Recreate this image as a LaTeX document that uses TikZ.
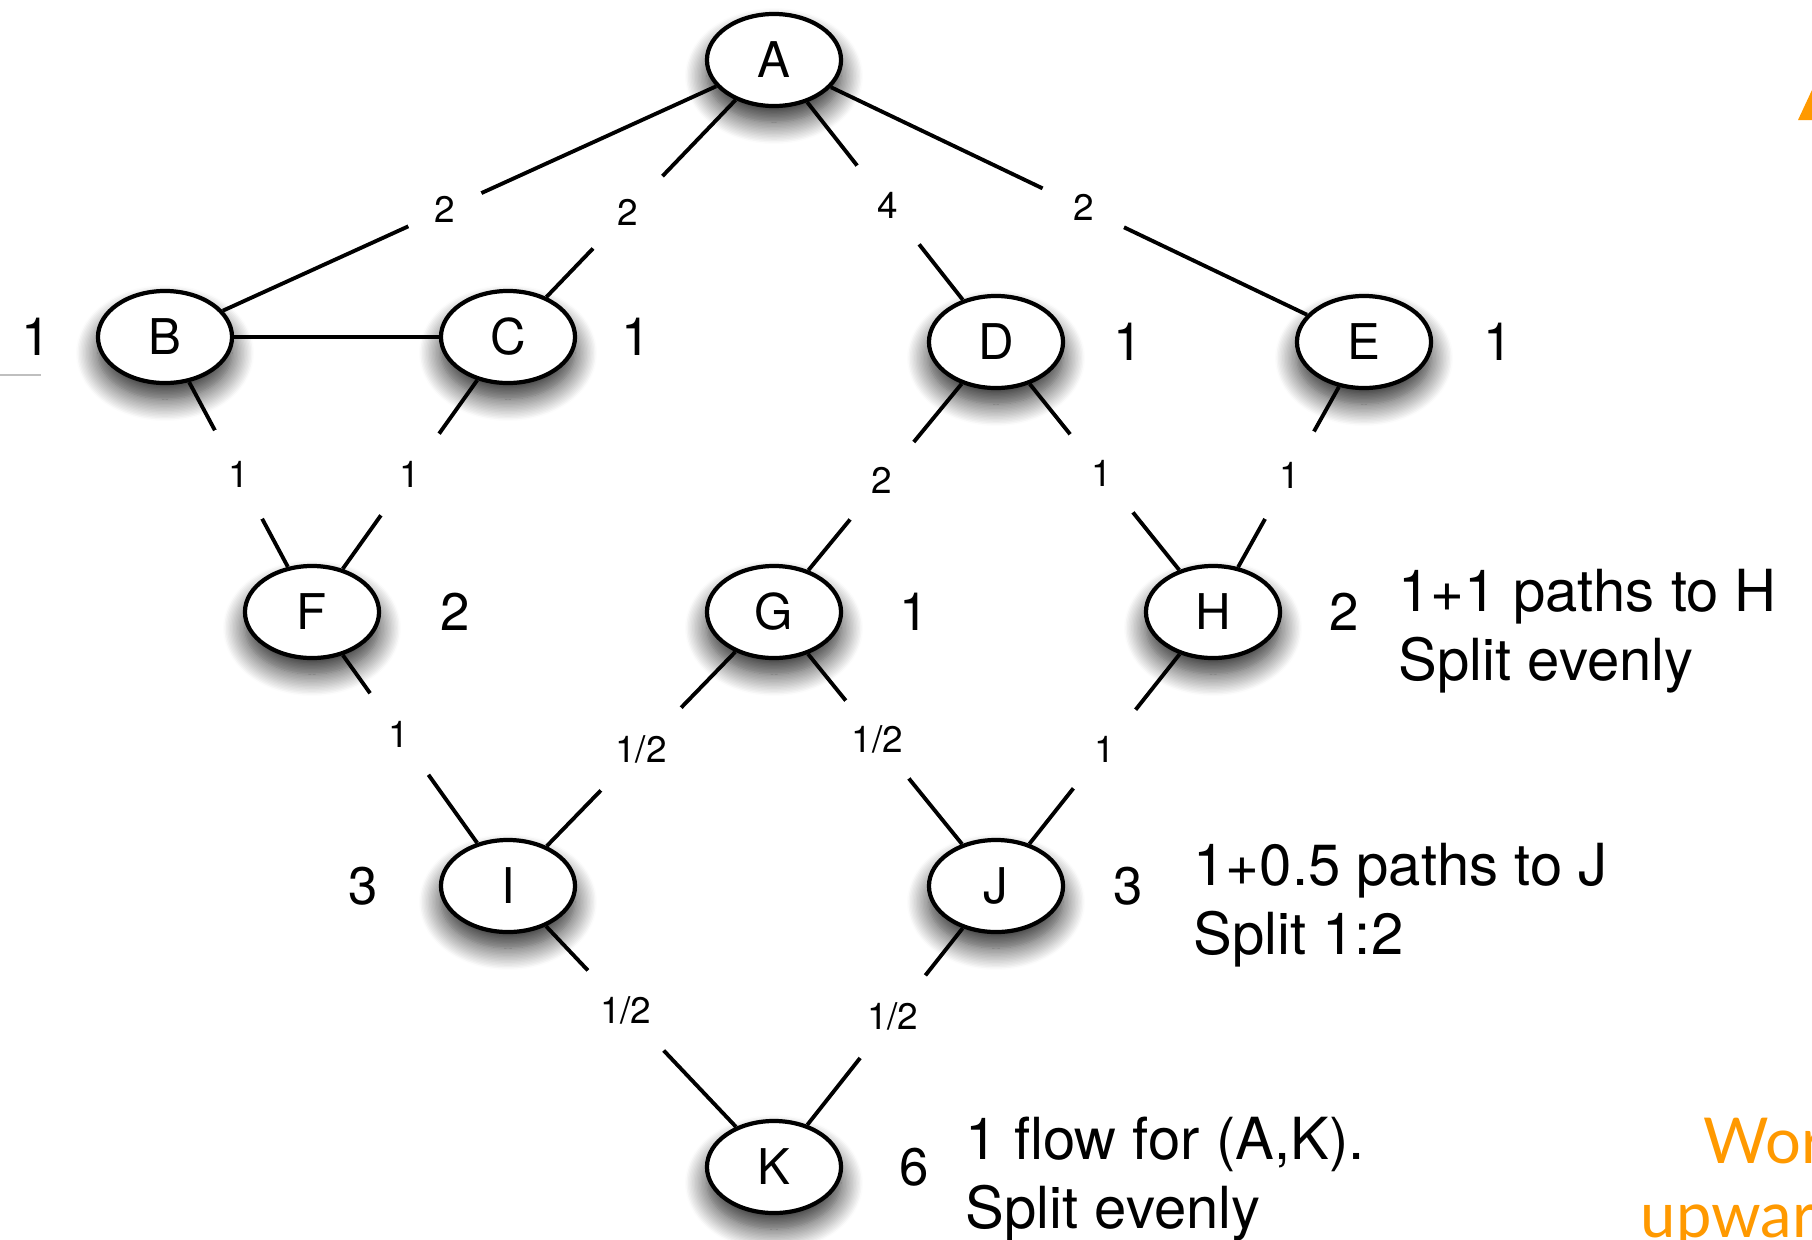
\documentclass[tikz,border=0pt]{standalone}
\usepackage{fontspec}
\setmainfont{TeX Gyre Heros}
\newfontfamily\slidefont{Lato}
\usetikzlibrary{positioning, shapes.geometric, shadows.blur}
\definecolor{slideorange}{RGB}{255,153,0}

\begin{document}
\begin{tikzpicture}[
    x=0.01cm, y=-0.01cm,
    vertex/.style={draw, ellipse, line width=1.2pt, fill=white, minimum width=1.34cm, minimum height=0.92cm, inner sep=0pt,
        font=\fontsize{14}{16}\selectfont,
        blur shadow={shadow xshift=0pt, shadow yshift=-0.16cm, shadow blur radius=0.22cm, shadow blur steps=16, shadow opacity=85}},
    link/.style={line width=1.1pt},
    weight/.style={fill=white, circle, inner sep=0pt, minimum size=1cm, font=\fontsize{10.5}{12}\selectfont},
    count/.style={font=\fontsize{15}{18}\selectfont},
    note/.style={anchor=west, align=left, inner sep=0pt, font=\fontsize{16.5}{19.6}\selectfont},
    remnant/.style={anchor=base west, inner sep=0pt, text=slideorange, font=\slidefont\fontsize{18}{20}\selectfont},
]
\clip (0,0) rectangle (1812,1239);

% Nodes of the DAG
\node[vertex] (A) at (774,60) {A};
\node[vertex] (B) at (165,337) {B};
\node[vertex] (C) at (508,337) {C};
\node[vertex] (D) at (996,342) {D};
\node[vertex] (E) at (1364,342) {E};
\node[vertex] (F) at (312,612) {F};
\node[vertex] (G) at (774,612) {G};
\node[vertex] (H) at (1213,612) {H};
\node[vertex] (I) at (508,886) {I};
\node[vertex] (J) at (996,886) {J};
\node[vertex] (K) at (774,1167) {K};

% Edges with credit weights
\draw[link] (A) -- node[weight, minimum size=0.8cm, pos=0.55] {2} (B);
\draw[link] (A) -- node[weight, pos=0.57] {2} (C);
\draw[link] (A) -- node[weight, pos=0.52] {4} (D);
\draw[link] (A) -- node[weight, minimum size=0.9cm, pos=0.53] {2} (E);
\draw[link] (B) -- (C);
\draw[link] (B) -- node[weight, pos=0.5] {1} (F);
\draw[link] (C) -- node[weight, pos=0.5] {1} (F);
\draw[link] (D) -- node[weight, pos=0.52] {2} (G);
\draw[link] (D) -- node[weight, pos=0.48] {1} (H);
\draw[link] (E) -- node[weight, pos=0.49] {1} (H);
\draw[link] (F) -- node[weight, pos=0.42] {1} (I);
\draw[link] (G) -- node[weight, minimum size=1.15cm, pos=0.5] {1/2} (I);
\draw[link] (G) -- node[weight, pos=0.45] {1/2} (J);
\draw[link] (H) -- node[weight, pos=0.5] {1} (J);
\draw[link] (I) -- node[weight, minimum size=1.1cm, pos=0.42] {1/2} (K);
\draw[link] (J) -- node[weight, minimum size=1.05cm, pos=0.45] {1/2} (K);

% Shortest path counts
\node[count, left=0.33cm of B] (sB) {1};
\node[count, right=0.32cm of C] (sC) {1};
\node[count, right=0.36cm of D] (sD) {1};
\node[count, right=0.38cm of E] (sE) {1};
\node[count, right=0.47cm of F] (sF) {2};
\node[count, right=0.44cm of G] (sG) {1};
\node[count, right=0.35cm of H] (sH) {2};
\node[count, left=0.49cm of I] (sI) {3};
\node[count, right=0.36cm of J] (sJ) {3};
\node[count, right=0.44cm of K] (sK) {6};
\draw[gray!50, line width=0.4pt] (0,375) -- (41,375);

% Notes
\node[note] (noteH) at (1398,631) {1+1 paths to H\\Split evenly};
\node[note] (noteJ) at (1193,905) {1+0.5 paths to J\\Split 1:2};
\node[note] (noteK) at (965,1179) {1 flow for (A,K).\\Split evenly};

% Slide remnants on the right
\fill[slideorange] (1798,120) -- (1825,62) -- (1852,120) -- cycle;
\node[remnant] (work) at (1703,1163) {Work};
\node[remnant] (upward) at (1640,1237) {upward};
\end{tikzpicture}
\end{document}
